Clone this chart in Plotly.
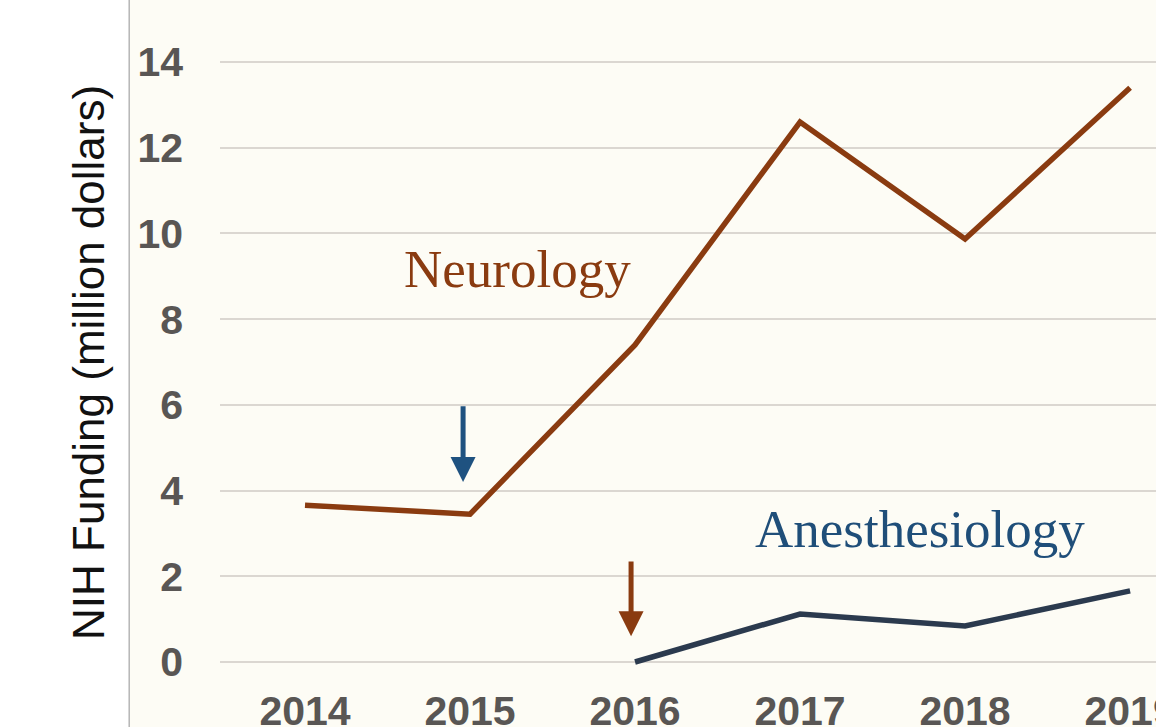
import plotly.graph_objects as go

years = [2014, 2015, 2016, 2017, 2018, 2019]
neurology = [3.66, 3.45, 7.4, 12.6, 9.87, 13.4]
anes_years = [2016, 2017, 2018, 2019]
anesthesiology = [0.0, 1.12, 0.84, 1.66]
y_ticks = [0, 2, 4, 6, 8, 10, 12, 14]

BROWN = "#8a3b10"
NAVY = "#2b3a4e"
BLUE_ARROW = "#1f5280"
CREAM = "#fdfcf5"

fig = go.Figure()
fig.add_trace(go.Scatter(x=years, y=neurology, mode="lines",
                         line=dict(color=BROWN, width=5.5), name="Neurology"))
fig.add_trace(go.Scatter(x=anes_years, y=anesthesiology, mode="lines",
                         line=dict(color=NAVY, width=5.5), name="Anesthesiology"))

fig.update_layout(
    width=1156, height=727,
    margin=dict(l=220, r=0, t=0, b=44, autoexpand=False),
    paper_bgcolor="white", plot_bgcolor=CREAM,
    showlegend=False,
    xaxis=dict(range=[2013.485, 2019.157], tickvals=years,
               ticktext=[str(y) for y in years],
               showgrid=False, zeroline=False, showline=False,
               tickfont=dict(family="Liberation Sans, Arial", size=41, color="#595654",
                             weight="bold"),
               ticks="", ticklabelstandoff=0, ticklabeloverflow="allow",
               automargin=False),
    yaxis=dict(range=[-0.49, 15.447], tickvals=y_ticks,
               showgrid=True, gridcolor="#dbd7d1", gridwidth=2,
               zeroline=False, showline=False,
               tickfont=dict(family="Liberation Sans, Arial", size=41, color="#595654",
                             weight="bold"),
               ticks="", ticklabelstandoff=36, ticklabeloverflow="allow",
               automargin=False),
)

# cream panel behind the axes area + left border line
fig.add_shape(type="rect", xref="paper", yref="paper", x0=-0.0962, x1=1.01,
              y0=-0.2, y1=1.1, fillcolor=CREAM, line=dict(width=0), layer="below")
fig.add_shape(type="line", xref="paper", yref="paper", x0=-0.0970, x1=-0.0970,
              y0=-0.2, y1=1.1, line=dict(color="#b5b5b5", width=1.5))

# y axis title
fig.add_annotation(text="NIH Funding (million dollars)", xref="paper", yref="paper",
                   x=-0.140, y=0.470, showarrow=False, textangle=-90,
                   font=dict(family="Liberation Sans, Arial", size=44, color="#111111"),
                   xanchor="center", yanchor="middle")

# series labels
fig.add_annotation(text="Neurology", x=2015.29, y=9.16, showarrow=False,
                   font=dict(family="Liberation Serif, Times New Roman", size=53, color=BROWN),
                   xanchor="center", yanchor="middle")
fig.add_annotation(text="Anesthesiology", x=2017.727, y=3.1, showarrow=False,
                   font=dict(family="Liberation Serif, Times New Roman", size=53, color="#1f4e79"),
                   xanchor="center", yanchor="middle")

# arrows
fig.add_annotation(x=2014.958, y=4.2, ax=2014.958, ay=6.0, axref="x", ayref="y",
                   text="", showarrow=True, arrowhead=2, arrowsize=1, arrowwidth=5,
                   arrowcolor=BLUE_ARROW)
fig.add_annotation(x=2015.976, y=0.6, ax=2015.976, ay=2.38, axref="x", ayref="y",
                   text="", showarrow=True, arrowhead=2, arrowsize=1, arrowwidth=5,
                   arrowcolor=BROWN)

fig.write_html("out.html", config={"displayModeBar": False},
               post_script="document.body.style.margin='0';document.body.style.overflow='hidden';")
